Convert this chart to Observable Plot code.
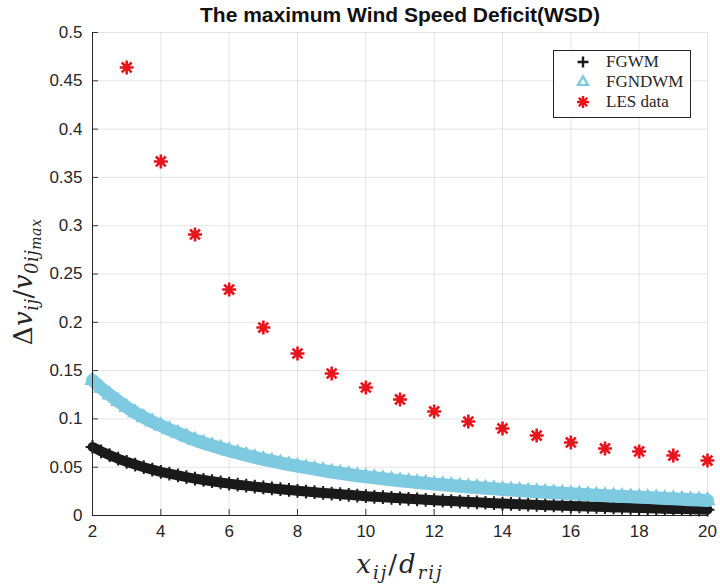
<!DOCTYPE html>
<html><head><meta charset="utf-8">
<script src="https://cdn.jsdelivr.net/npm/d3@7"></script>
<script src="https://cdn.jsdelivr.net/npm/@observablehq/plot@0.6"></script>
<style>body{margin:0;background:#fff;}</style>
</head><body><div id="chart"></div>
<script>
const xGrid = [2.00,2.25,2.50,2.75,3.00,3.25,3.50,3.75,4.00,4.25,4.50,4.75,5.00,5.25,5.50,5.75,6.00,6.25,6.50,6.75,7.00,7.25,7.50,7.75,8.00,8.25,8.50,8.75,9.00,9.25,9.50,9.75,10.00,10.25,10.50,10.75,11.00,11.25,11.50,11.75,12.00,12.25,12.50,12.75,13.00,13.25,13.50,13.75,14.00,14.25,14.50,14.75,15.00,15.25,15.50,15.75,16.00,16.25,16.50,16.75,17.00,17.25,17.50,17.75,18.00,18.25,18.50,18.75,19.00,19.25,19.50,19.75,20.00];
const fgwm = [0.0710,0.0665,0.0625,0.0588,0.0555,0.0527,0.0500,0.0475,0.0452,0.0433,0.0415,0.0398,0.0382,0.0368,0.0355,0.0342,0.0330,0.0319,0.0309,0.0299,0.0290,0.0281,0.0272,0.0264,0.0256,0.0248,0.0241,0.0234,0.0227,0.0220,0.0214,0.0207,0.0200,0.0194,0.0189,0.0183,0.0178,0.0173,0.0168,0.0163,0.0158,0.0153,0.0149,0.0144,0.0140,0.0136,0.0132,0.0128,0.0124,0.0120,0.0117,0.0113,0.0110,0.0107,0.0104,0.0101,0.0098,0.0095,0.0092,0.0090,0.0087,0.0084,0.0082,0.0079,0.0077,0.0075,0.0072,0.0070,0.0068,0.0066,0.0064,0.0062,0.0060];
const fgndwm = [0.1400,0.1320,0.1250,0.1183,0.1120,0.1065,0.1015,0.0970,0.0930,0.0890,0.0853,0.0815,0.0780,0.0751,0.0723,0.0696,0.0670,0.0647,0.0624,0.0602,0.0580,0.0562,0.0545,0.0527,0.0510,0.0495,0.0480,0.0465,0.0450,0.0438,0.0425,0.0412,0.0400,0.0390,0.0380,0.0370,0.0360,0.0351,0.0342,0.0334,0.0325,0.0318,0.0310,0.0303,0.0295,0.0289,0.0283,0.0276,0.0270,0.0264,0.0258,0.0251,0.0245,0.0240,0.0235,0.0230,0.0225,0.0220,0.0215,0.0210,0.0205,0.0201,0.0197,0.0194,0.0190,0.0186,0.0182,0.0177,0.0173,0.0169,0.0164,0.0160,0.0155];
const lesX = [3,4,5,6,7,8,9,10,11,12,13,14,15,16,17,18,19,20];
const lesY = [0.4638,0.3665,0.2909,0.2339,0.1946,0.1677,0.1470,0.1325,0.1201,0.1077,0.0973,0.0901,0.0828,0.0756,0.0694,0.0663,0.0621,0.0569];
const xTicks = [2,4,6,8,10,12,14,16,18,20];
const yTicks = [0,0.05,0.1,0.15,0.2,0.25,0.3,0.35,0.4,0.45,0.5];
const titleText = "The maximum Wind Speed Deficit(WSD)";
const seriesNames = ["FGWM","FGNDWM","LES data"];

const colBlack = "#1a1a1a", colBlue = "#7ecae0", colRed = "#e8141c", axisCol = "#262626";

const star = {
  draw(ctx, size) {
    const r = Math.sqrt(size / Math.PI), d = r * Math.SQRT1_2;
    ctx.moveTo(-r, 0); ctx.lineTo(r, 0);
    ctx.moveTo(0, -r); ctx.lineTo(0, r);
    ctx.moveTo(-d, -d); ctx.lineTo(d, d);
    ctx.moveTo(-d, d); ctx.lineTo(d, -d);
  }
};

const modelRows = xGrid.map((x, i) => ({x, fgwm: fgwm[i], fgndwm: fgndwm[i]}));
const lesRows = lesX.map((x, i) => ({x, y: lesY[i]}));
const fmt = d => String(Math.round(d * 100) / 100);

const plot = Plot.plot({
  width: 720, height: 588,
  marginLeft: 92, marginRight: 13, marginTop: 32, marginBottom: 73,
  style: {fontFamily: "'Liberation Sans', Arial, sans-serif", fontSize: "17px", color: axisCol, background: "#fff"},
  x: {domain: [2, 20]},
  y: {domain: [0, 0.5]},
  marks: [
    Plot.gridX(xTicks, {stroke: axisCol, strokeOpacity: 0.12, strokeWidth: 1}),
    Plot.gridY(yTicks, {stroke: axisCol, strokeOpacity: 0.12, strokeWidth: 1}),
    Plot.axisX({ticks: xTicks, tickSize: 0, tickPadding: 9, tickFormat: fmt, label: null, fill: axisCol}),
    Plot.axisY({ticks: yTicks, tickSize: 0, tickPadding: 10, tickFormat: fmt, label: null, fill: axisCol}),
    Plot.axisX({ticks: xTicks, tickSize: 6, dy: -6, tickFormat: () => "", label: null, stroke: axisCol, strokeOpacity: 0.9}),
    Plot.axisY({ticks: yTicks, tickSize: 6, dx: 6, tickFormat: () => "", label: null, stroke: axisCol, strokeOpacity: 0.9}),
    // FGWM
    Plot.line(modelRows, {x: "x", y: "fgwm", stroke: colBlack, strokeWidth: 10}),
    Plot.dot(modelRows, {x: "x", y: "fgwm", symbol: "plus", r: 4.5, stroke: colBlack, strokeWidth: 2}),
    // FGNDWM
    Plot.line(modelRows, {x: "x", y: "fgndwm", stroke: colBlue, strokeWidth: 13}),
    Plot.dot(modelRows, {x: "x", y: "fgndwm", symbol: "triangle", r: 4.8, stroke: colBlue, fill: colBlue, strokeWidth: 2}),
    // LES
    Plot.dot(lesRows, {x: "x", y: "y", symbol: star, r: 7, stroke: colRed, strokeWidth: 2.6}),
    Plot.ruleX([2], {stroke: axisCol, strokeWidth: 1}),
    Plot.ruleY([0], {stroke: axisCol, strokeWidth: 1})
  ]
});
document.getElementById("chart").appendChild(plot);

const svg = d3.select(plot);
// title
svg.append("text").attr("x", 400).attr("y", 22).attr("text-anchor", "middle")
  .style("font", "bold 21px 'Liberation Sans', Arial, sans-serif").attr("fill", "#111").text(titleText);

// x label
const xl = svg.append("text").attr("x", 400).attr("y", 573).attr("text-anchor", "middle")
  .style("font-family", "'DejaVu Serif', serif").style("font-style", "italic")
  .style("font-size", "26px").style("letter-spacing", "2px").attr("fill", axisCol);
xl.append("tspan").text("x");
xl.append("tspan").attr("dy", 6).style("font-size", "18px").text("ij");
xl.append("tspan").attr("dy", -6).style("font-style", "normal").text("/");
xl.append("tspan").text("d");
xl.append("tspan").attr("dy", 6).style("font-size", "18px").text("rij");

// y label
const yl = svg.append("text").attr("transform", "translate(32,282) rotate(-90)").attr("text-anchor", "middle")
  .style("font-family", "'DejaVu Serif', serif").style("font-style", "italic")
  .style("font-size", "26px").style("letter-spacing", "0.5px").attr("fill", axisCol);
yl.append("tspan").style("font-style", "normal").text("Δ");
yl.append("tspan").text("v");
yl.append("tspan").attr("dy", 6).style("font-size", "18px").text("ij");
yl.append("tspan").attr("dy", -6).style("font-style", "normal").text("/");
yl.append("tspan").text("v");
yl.append("tspan").attr("dy", 6).style("font-size", "18px").text("0ij");
yl.append("tspan").attr("dy", 3).style("font-size", "14px").text("max");

// legend
const lg = svg.append("g");
lg.append("rect").attr("x", 553.5).attr("y", 50.5).attr("width", 137).attr("height", 67)
  .attr("fill", "#fff").attr("stroke", axisCol).attr("stroke-width", 1);
const ly = [62, 82, 102];
lg.append("path").attr("transform", `translate(583,${ly[0]})`).attr("d", "M-5.5,0H5.5M0,-5.5V5.5")
  .attr("stroke", colBlack).attr("stroke-width", 2.4).attr("fill", "none");
lg.append("path").attr("transform", `translate(583,${ly[1]})`).attr("d", d3.symbol(d3.symbolTriangle2, 70)())
  .attr("stroke", colBlue).attr("stroke-width", 2.4).attr("fill", "none");
lg.append("path").attr("transform", `translate(583,${ly[2]})`).attr("d", d3.symbol(star, Math.PI * 36)())
  .attr("stroke", colRed).attr("stroke-width", 2.4).attr("fill", "none");
seriesNames.forEach((n, i) => {
  lg.append("text").attr("x", 606).attr("y", ly[i] + 5).attr("text-anchor", "start")
    .style("font", "17px 'Liberation Serif', 'Times New Roman', serif").attr("fill", axisCol).text(n);
});
</script>
</body></html>
